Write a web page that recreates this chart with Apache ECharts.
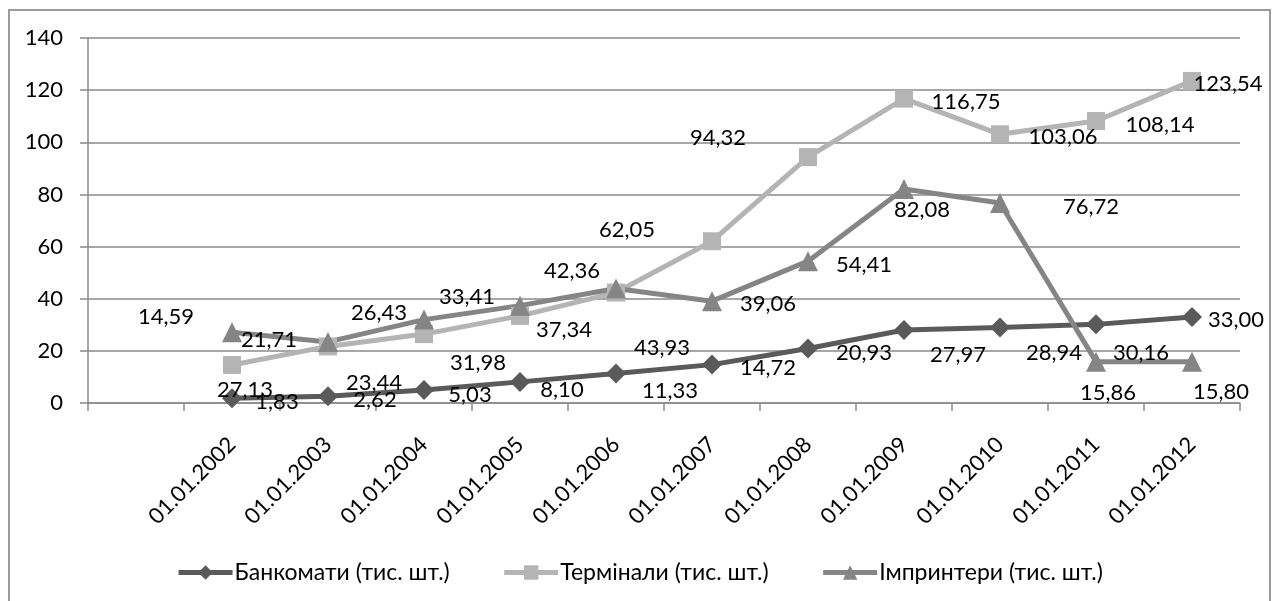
<!DOCTYPE html>
<html>
<head>
<meta charset="utf-8">
<script src="https://cdn.jsdelivr.net/npm/echarts@6/dist/echarts.min.js"></script>
<style>
  html, body { margin: 0; padding: 0; background: #ffffff; }
  #chart { width: 1279px; height: 601px; }
</style>
</head>
<body>
<div id="chart"></div>
<script>
// Dates of observation (thousands of units on 1 January)
const dates = ['01.01.2002', '01.01.2003', '01.01.2004', '01.01.2005', '01.01.2006',
               '01.01.2007', '01.01.2008', '01.01.2009', '01.01.2010', '01.01.2011', '01.01.2012'];

const seriesNames = ['Банкомати (тис. шт.)', 'Термінали (тис. шт.)', 'Імпринтери (тис. шт.)'];

const atms        = [1.83, 2.62, 5.03, 8.10, 11.33, 14.72, 20.93, 27.97, 28.94, 30.16, 33.00];
const terminals   = [14.59, 21.71, 26.43, 33.41, 42.36, 62.05, 94.32, 116.75, 103.06, 108.14, 123.54];
const imprinters  = [27.13, 23.44, 31.98, 37.34, 43.93, 39.06, 54.41, 82.08, 76.72, 15.86, 15.80];

const yTicks = { min: 0, max: 140, interval: 20 };

// Manual nudges for the value labels (px, relative to each marker)
const atmLabelShift = [[45, 4], [47, 4], [46, 5], [42, 8], [54, 17], [56, 3],
                       [56, 4], [54, 25], [54, 25], [45, 29], [44, 3]];
const termLabelShift = [[-66, -48], [-59, -6], [-45, -21], [-53, -19], [-44, -22], [-85, -11],
                        [-90, -19], [62, 3], [63, 3], [64, 4], [36, 3]];
const imprLabelShift = [[13, 58], [46, 41], [54, 43], [44, 24], [46, 59], [56, 3],
                        [56, 4], [18, 21], [91, 4], [12, 31], [29, 30]];
const labelShifts = [atmLabelShift, termLabelShift, imprLabelShift];

const FONT = 'Lato';

// The category axis carries one leading empty slot before the first date
const categories = [''].concat(dates);

function fmt(p) {
  return Number(p.value).toFixed(2).replace('.', ',');
}

function lineSeries(name, values, color, symbol, size) {
  return {
    name: name,
    type: 'line',
    data: [null].concat(values),
    symbol: symbol,
    symbolSize: size,
    showSymbol: true,
    connectNulls: false,
    lineStyle: { color: color, width: 5 },
    itemStyle: { color: color },
    emphasis: { disabled: true },
    label: {
      show: true,
      position: 'inside',
      formatter: fmt,
      color: '#000000',
      fontFamily: FONT,
      fontSize: 22
    },
    labelLayout: function (params) {
      const shift = labelShifts[params.seriesIndex][params.dataIndex - 1];
      if (!shift) return {};
      return { dx: shift[0], dy: shift[1], hideOverlap: false };
    },
    z: 2
  };
}

const chart = echarts.init(document.getElementById('chart'), null, { renderer: 'canvas' });

chart.setOption({
  animation: false,
  backgroundColor: '#ffffff',
  textStyle: { fontFamily: FONT },
  graphic: [{
    type: 'rect',
    shape: { x: 9, y: 10, width: 1261, height: 640 },
    style: { fill: 'none', stroke: '#9a9a9a', lineWidth: 2 },
    silent: true,
    z: -10
  }],
  grid: { left: 88, right: 39, top: 38, bottom: 198, containLabel: false },
  legend: {
    bottom: 12,
    left: 'center',
    itemWidth: 54,
    itemHeight: 18,
    itemGap: 52,
    lineStyle: { width: 5 },
    textStyle: { fontFamily: FONT, fontSize: 23, color: '#000000', padding: [0, 0, 0, -3] },
    data: seriesNames
  },
  xAxis: {
    type: 'category',
    data: categories,
    boundaryGap: true,
    axisLine: { show: true, lineStyle: { color: '#8a8a8a', width: 1.5 } },
    axisTick: { show: true, interval: 0, length: 8, lineStyle: { color: '#8a8a8a', width: 1.5 } },
    axisLabel: {
      interval: 0,
      rotate: 45,
      margin: 38,
      color: '#000000',
      fontFamily: FONT,
      fontSize: 22
    },
    splitLine: { show: false }
  },
  yAxis: {
    type: 'value',
    min: yTicks.min,
    max: yTicks.max,
    interval: yTicks.interval,
    axisLine: { show: true, lineStyle: { color: '#8a8a8a', width: 1.5 } },
    axisTick: { show: true, length: 8, lineStyle: { color: '#8a8a8a', width: 1.5 } },
    axisLabel: {
      margin: 25,
      color: '#000000',
      fontFamily: FONT,
      fontSize: 22
    },
    splitLine: { show: true, lineStyle: { color: '#8a8a8a', width: 1.5 } }
  },
  series: [
    lineSeries(seriesNames[0], atms, '#5a5a5a', 'diamond', 20),
    lineSeries(seriesNames[1], terminals, '#b4b4b4', 'rect', 18),
    lineSeries(seriesNames[2], imprinters, '#858585', 'triangle', 20)
  ]
});
</script>
</body>
</html>
